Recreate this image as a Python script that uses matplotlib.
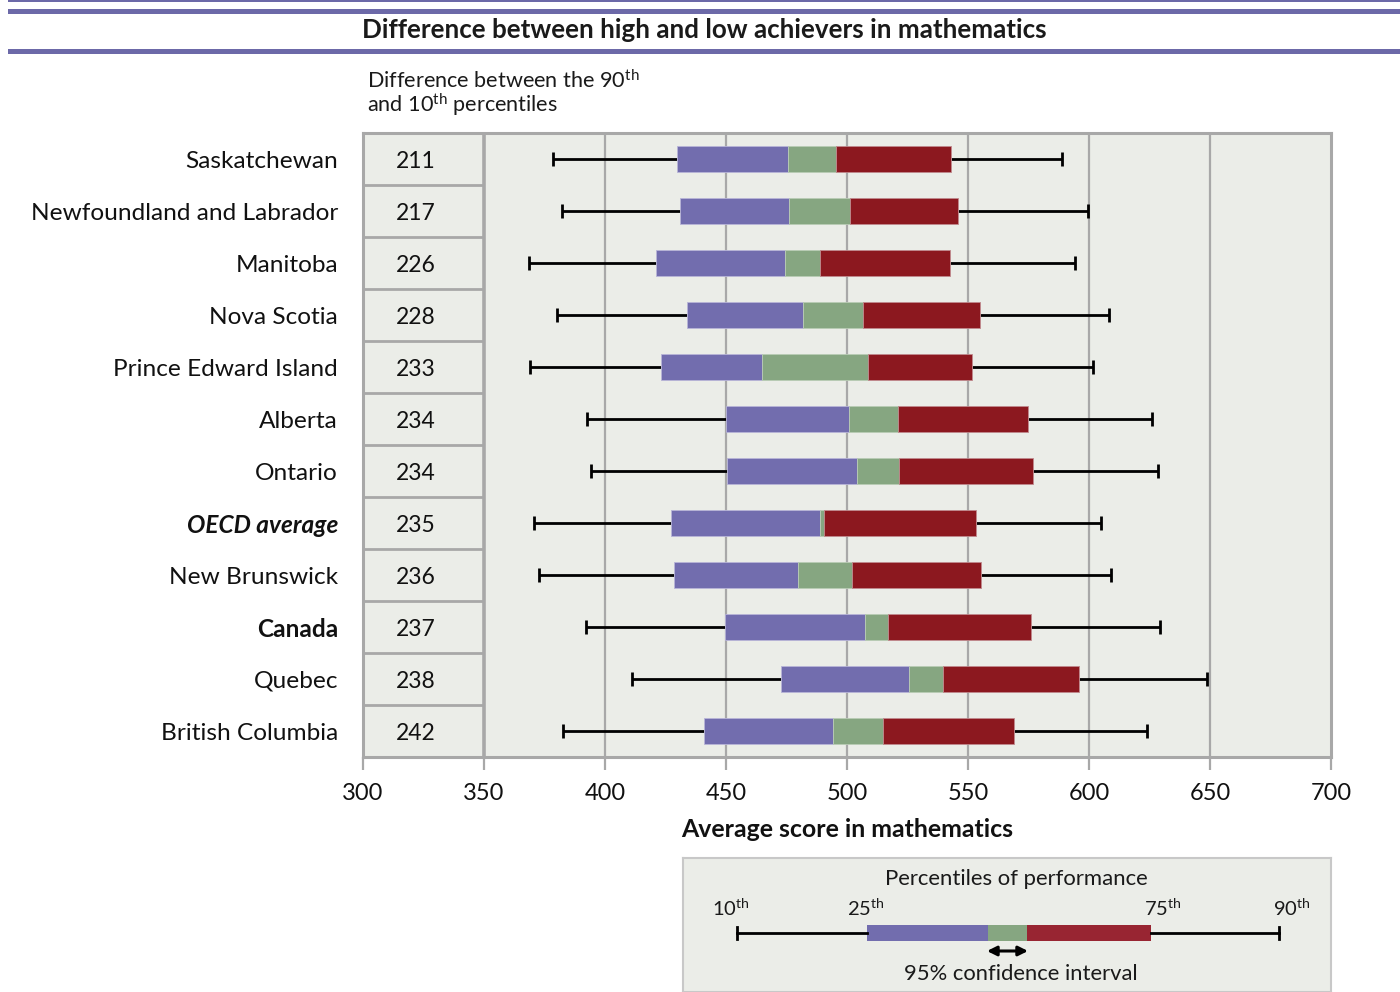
import matplotlib
matplotlib.use("Agg")
import matplotlib.pyplot as plt
import matplotlib.transforms as mtransforms
from matplotlib.patches import Rectangle

plt.rcParams['font.family'] = ['Lato', 'DejaVu Sans']
plt.rcParams['mathtext.fontset'] = 'custom'
plt.rcParams['mathtext.rm'] = 'Lato'
plt.rcParams['mathtext.it'] = 'Lato:italic'
plt.rcParams['mathtext.bf'] = 'Lato:bold'

# ---------------- data ----------------
regions = ["Saskatchewan", "Newfoundland and Labrador", "Manitoba", "Nova Scotia",
           "Prince Edward Island", "Alberta", "Ontario", "OECD average",
           "New Brunswick", "Canada", "Quebec", "British Columbia"]
gap_90_10 = [211, 217, 226, 228, 233, 234, 234, 235, 236, 237, 238, 242]
p10 = [378.4, 382.4, 368.5, 380.0, 368.9, 392.4, 394.4, 370.5, 372.7, 392.0, 411.0, 382.5]
p25 = [429.8, 430.8, 421.0, 433.7, 423.1, 450.2, 450.5, 427.3, 428.5, 449.5, 472.6, 440.8]
ci_low = [475.5, 476.0, 474.4, 481.9, 464.9, 500.9, 504.2, 488.7, 479.8, 507.5, 525.6, 494.2]
ci_high = [495.3, 501.2, 488.9, 506.8, 508.5, 520.9, 521.6, 490.4, 502.0, 516.8, 539.7, 514.9]
p75 = [542.8, 545.7, 542.4, 555.1, 551.5, 574.6, 576.9, 553.1, 555.2, 576.1, 596.0, 568.9]
p90 = [588.8, 599.7, 594.1, 608.2, 601.6, 626.0, 628.5, 604.9, 608.9, 629.3, 648.7, 623.9]
x_ticks = [300, 350, 400, 450, 500, 550, 600, 650, 700]

PURPLE = "#726DAE"
GREEN = "#86A681"
RED = "#8C181F"
BG = "#EBEDE8"
GRID = "#A8A8A8"
BAND = "#6C69A8"

W, H = 1400, 992
fig = plt.figure(figsize=(W / 100, H / 100), dpi=100)

# ---------------- header bands ----------------
hdr = fig.add_axes([0, 0, 1, 1], zorder=-5)
hdr.set_xlim(0, W)
hdr.set_ylim(H, 0)
hdr.axis('off')
hdr.add_patch(Rectangle((8, 0), W - 8, 1.5, color=BAND, lw=0))
hdr.add_patch(Rectangle((8, 9), W - 8, 5, color=BAND, lw=0))
hdr.add_patch(Rectangle((8, 49), W - 8, 5, color=BAND, lw=0))
hdr.text(704, 30, "Difference between high and low achievers in mathematics",
         ha='center', va='center', fontsize=18.7, fontweight='bold', color='#1a1a1a')
hdr.text(367, 81, r"Difference between the 90$^{\mathrm{th}}$", ha='left', va='center',
         fontsize=15.6, color='#1a1a1a')
hdr.text(367, 105, r"and 10$^{\mathrm{th}}$ percentiles", ha='left', va='center',
         fontsize=15.6, color='#1a1a1a')

# ---------------- main axes ----------------
ax = fig.add_axes([363 / W, 1 - 757 / H, 968 / W, 624 / H])
ax.set_facecolor(BG)
n = len(regions)
ax.set_xlim(x_ticks[0], x_ticks[-1])
ax.set_ylim(n, 0)

for xv in x_ticks[2:-1]:
    ax.axvline(xv, color=GRID, lw=1.6, zorder=1)
ax.axvline(x_ticks[1], color=GRID, lw=2.6, zorder=1)
for i in range(1, n):
    ax.plot([x_ticks[0], x_ticks[1]], [i, i], color=GRID, lw=2, zorder=1,
            solid_capstyle='butt')

yc = [i + 0.5 for i in range(n)]
ax.hlines(yc, p10, p25, color='black', lw=2, zorder=2)
ax.hlines(yc, p75, p90, color='black', lw=2, zorder=2)
ax.vlines(p10, [y - 0.13 for y in yc], [y + 0.13 for y in yc], color='black', lw=2, zorder=2)
ax.vlines(p90, [y - 0.13 for y in yc], [y + 0.13 for y in yc], color='black', lw=2, zorder=2)

h = 0.5
ax.barh(yc, [b - a for a, b in zip(p25, ci_low)], left=p25, height=h, color=PURPLE,
        zorder=3, edgecolor='#B8B5D8', lw=0.6)
ax.barh(yc, [b - a for a, b in zip(ci_low, ci_high)], left=ci_low, height=h, color=GREEN,
        zorder=3, edgecolor='#B9CCB5', lw=0.6)
ax.barh(yc, [b - a for a, b in zip(ci_high, p75)], left=ci_high, height=h, color=RED,
        zorder=3, edgecolor='#C08A8E', lw=0.6)

for y, g in zip(yc, gap_90_10):
    ax.text(322, y + 0.04, str(g), ha='center', va='center', fontsize=16.5, color='#111111')

trans = mtransforms.blended_transform_factory(fig.transFigure, ax.transData)
for y, r in zip(yc, regions):
    kw = {}
    if r == "Canada":
        kw = dict(fontweight='bold')
    elif r == "OECD average":
        kw = dict(fontweight='bold', fontstyle='italic')
    ax.text(338 / W, y + 0.04, r, transform=trans, ha='right', va='center',
            fontsize=17.6, color='#111111', **kw)

for s in ax.spines.values():
    s.set_color(GRID)
    s.set_linewidth(2.2)
ax.set_xticks(x_ticks)
ax.set_xticklabels([str(t) for t in x_ticks], fontsize=17, color='#111111')
ax.tick_params(axis='x', direction='out', length=9, width=1.6, color=GRID, pad=10)
ax.set_yticks([])
ax.set_xlabel("Average score in mathematics", fontsize=17.9, fontweight='bold',
              color='#111111', labelpad=10)

# ---------------- legend key ----------------
lg = fig.add_axes([683 / W, 0, 648 / W, (H - 858) / H])
lg.set_facecolor(BG)
lg.set_xlim(0, 648)
lg.set_ylim(134, 0)
lg.set_xticks([])
lg.set_yticks([])
for s in lg.spines.values():
    s.set_color('#C8C8C8')
    s.set_linewidth(1.5)
lg.text(333, 21, "Percentiles of performance", ha='center', va='center', fontsize=15.9,
        color='#1a1a1a')
ly = 75
lg.plot([54, 184], [ly, ly], color='black', lw=2)
lg.plot([468, 596], [ly, ly], color='black', lw=2)
lg.plot([54, 54], [ly - 6, ly + 6], color='black', lw=2)
lg.plot([596, 596], [ly - 6, ly + 6], color='black', lw=2)
lg.add_patch(Rectangle((184, ly - 8), 121, 16, color=PURPLE, lw=0))
lg.add_patch(Rectangle((305, ly - 8), 39, 16, color=GREEN, lw=0))
lg.add_patch(Rectangle((344, ly - 8), 124, 16, color="#982532", lw=0))
for xx, lab in [(48, "10"), (183, "25"), (480, "75"), (609, "90")]:
    lg.text(xx, 50, lab + r"$^{\mathrm{th}}$", ha='center', va='center', fontsize=14.5,
            color='#1a1a1a')
lg.annotate("", xy=(345, 93), xytext=(304, 93),
            arrowprops=dict(arrowstyle='<|-|>', color='black', lw=2.2,
                            mutation_scale=14, shrinkA=0, shrinkB=0))
lg.text(338, 116, "95% confidence interval", ha='center', va='center', fontsize=15.8,
        color='#1a1a1a')

fig.savefig("out.png", dpi=100, facecolor='white')
